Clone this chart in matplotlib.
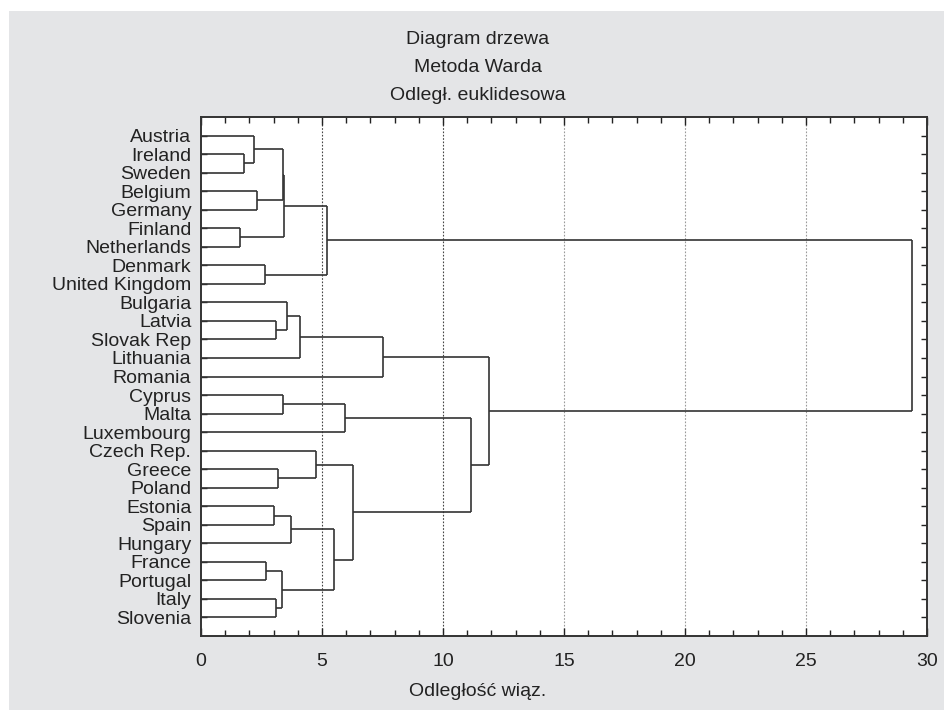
import matplotlib
matplotlib.use("Agg")
import matplotlib.pyplot as plt
from matplotlib.patches import Rectangle
from matplotlib.ticker import MultipleLocator

plt.rcParams['font.family'] = ['Liberation Sans', 'DejaVu Sans']

# liście w kolejności od góry
kraje = ["Austria", "Ireland", "Sweden", "Belgium", "Germany", "Finland",
         "Netherlands", "Denmark", "United Kingdom", "Bulgaria", "Latvia",
         "Slovak Rep", "Lithuania", "Romania", "Cyprus", "Malta", "Luxembourg",
         "Czech Rep.", "Greece", "Poland", "Estonia", "Spain", "Hungary",
         "France", "Portugal", "Italy", "Slovenia"]

# połączenia: (węzeł_a, węzeł_b) - numery < 27 to liście, dalej kolejne skupienia
lewy = [1, 0, 3, 5, 7, 28, 32, 33, 10, 9, 36, 37, 14, 39, 18, 17, 20, 43,
        23, 25, 45, 44, 42, 40, 38, 34]
prawy = [2, 27, 4, 6, 8, 29, 30, 31, 11, 35, 12, 13, 15, 16, 19, 41, 21, 22,
         24, 26, 46, 47, 48, 49, 50, 51]
odleglosc = [1.78, 2.20, 2.33, 1.61, 2.63, 3.40, 3.44, 5.19, 3.10, 3.54, 4.08,
             7.53, 3.37, 5.96, 3.17, 4.77, 3.02, 3.73, 2.67, 3.09, 3.33, 5.50,
             6.29, 11.16, 11.91, 29.40]

tlo = "#e4e5e7"
kolor = "#333333"
fs = 14

fig = plt.figure(figsize=(9.44, 7.11), dpi=100)
fig.patch.set_facecolor("white")
fig.patches.append(Rectangle((9 / 944, 1 / 711), 1, 699 / 711,
                             transform=fig.transFigure, facecolor=tlo,
                             edgecolor="none", zorder=-10))

ax = fig.add_axes([201 / 944, 1 - 636 / 711, 726 / 944, 519 / 711])
ax.set_facecolor("white")

n = len(kraje)
poz_y = {i: i + 1 for i in range(n)}
wys = {i: 0.0 for i in range(n)}
for k, (a, b, d) in enumerate(zip(lewy, prawy, odleglosc)):
    idx = n + k
    for c in (a, b):
        ax.plot([wys[c], d], [poz_y[c], poz_y[c]], color=kolor, lw=1.2,
                solid_capstyle="butt", zorder=3)
    ax.plot([d, d], [poz_y[a], poz_y[b]], color=kolor, lw=1.2,
            solid_capstyle="butt", zorder=3)
    poz_y[idx] = (poz_y[a] + poz_y[b]) / 2
    wys[idx] = d

# linie siatki
for x in [5, 10, 15, 20, 25]:
    c = "#444444" if x <= 10 else "#999999"
    ax.axvline(x, color=c, lw=0.8, linestyle=(0, (1.5, 1.5)), zorder=1)

ax.set_xlim(0, 30)
ax.set_ylim(n + 1, 0)
ax.set_yticks(range(1, n + 1))
ax.set_yticklabels(kraje, fontsize=fs, color="#222222")
ax.xaxis.set_major_locator(MultipleLocator(5))
ax.xaxis.set_minor_locator(MultipleLocator(1))
ax.tick_params(axis="x", which="major", direction="in", top=True, length=6,
               width=1, labelsize=fs, pad=12, colors="#222222")
ax.tick_params(axis="x", which="minor", direction="in", top=True, length=4,
               width=1, colors="#222222")
ax.tick_params(axis="y", which="major", direction="in", right=True, length=4,
               width=1, pad=7, colors="#222222")
for s in ax.spines.values():
    s.set_color("#333333")
    s.set_linewidth(1.4)

fig.text(478 / 944, 1 - 40 / 711, "Diagram drzewa", ha="center", va="center",
         fontsize=fs, color="#222222")
fig.text(478 / 944, 1 - 67 / 711, "Metoda Warda", ha="center", va="center",
         fontsize=fs, color="#222222")
fig.text(478 / 944, 1 - 95 / 711, "Odległ. euklidesowa", ha="center",
         va="center", fontsize=fs, color="#222222")
fig.text(478 / 944, 1 - 692 / 711, "Odległość wiąz.", ha="center", va="center",
         fontsize=fs, color="#222222")

fig.savefig("out.png", dpi=100, facecolor=fig.get_facecolor())
